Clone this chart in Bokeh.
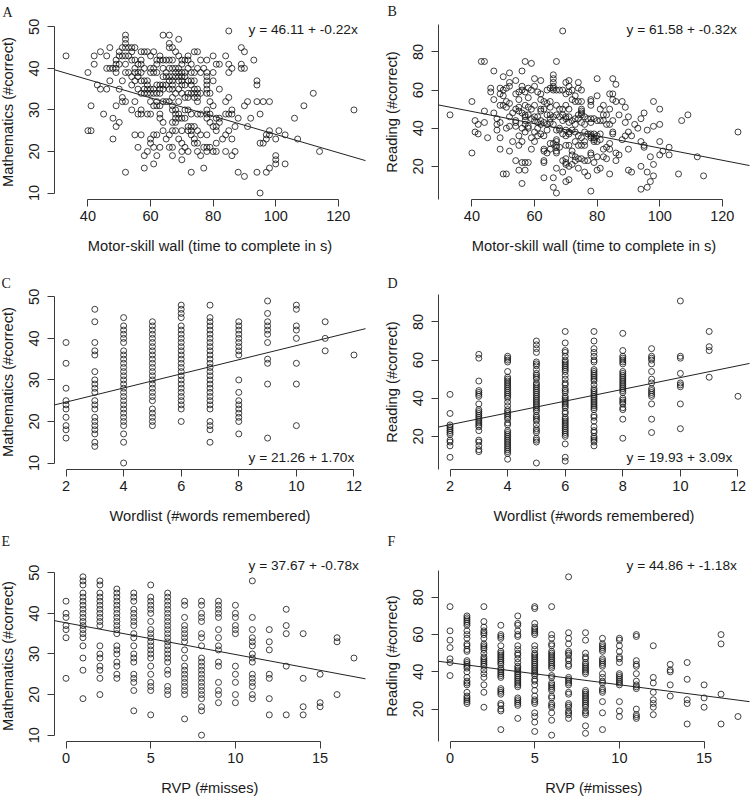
from bokeh.plotting import figure
from bokeh.layouts import column, row
from bokeh.models import Range1d, FixedTicker, Slope, Label
from bokeh.embed import file_html
from bokeh.resources import INLINE

# Panel A: motor-skill wall time vs mathematics (one list of scores per time)
motor_a = [33,40,41,42,43,44,45,46,47,48,49,50,51,52,53,54,55,56,57,58,59,60,61,62,63,64,65,66,67,68,69,70,71,72,73,74,75,76,77,78,79,80,81,82,83,84,85,86,87,88,89,90,91,92,93,94,95,96,97,98,100,101,103,106,107,109,112,114,125]
math_a = [[43],[39,25],[31,25],[43,41],[36],[44,35],[29],[43,40,35],[45,40,37],[40,28,23],[42,41,40,39,31,26],[44,43,41,35,27],[45,43,37,33,32],[48,47,46,45,43,41,39,32,15],[45,43,39],[45,44,42,38,36,30],[45,42,40,39,37,32,24],[41,39,38,35,29,21],[44,42,41,39,37,34,30,29,24],[44,40,37,35,34,19,16],[44,37,36,35,34,29,20],[43,40,39,35,34,32,29,23,22],[44,40,39,35,34,31,24,21,17],[42,41,39,36,34,32,31,24,19],[43,42,36,35,34,31,29,28,21],[48,42,40,38,36,35,32,27,25],[42,39,38,36,32,23],[48,46,45,42,40,38,37,35,32,24,21],[45,42,40,38,37,36,35,33,31,30,27,25,21,19],[44,40,39,38,34,30,29,28,27,25],[47,43,40,39,38,37,35,32,29,28,23],[42,41,39,38,37,36,34,28,25,22,20,18],[42,39,38,36,33,30,28,21],[43,42,40,37,34,33,30,26,25,20],[41,39,37,36,34,29,26,25,24,15],[44,39,37,35,34,33,26,23,22],[44,40,35,34,33,32,29,25,22,20],[42,39,34,29,24,19],[40,21,16],[42,39,38,37,36,35,34,30,29,28,24,21,20],[34,32,29,27,21],[43,39,37,31,26,20],[41,28,26,25,22,20],[41,35,28,27],[23],[43,32,29,24,20],[49,41,39,33,29,25],[40,30,29,23,19],[26,20],[28,15],[45,41,40],[44,40,31,14],[32,26],[28],[42],[37,36,32,15],[29,22,10],[32,22],[24,23,15],[32,25,24,16],[23,19,18,17],[25],[24,17],[28],[23],[31],[34],[20],[30]]

# Panel B: motor-skill wall time vs reading
motor_b = [33,40,41,42,43,44,45,46,47,48,49,50,51,52,53,54,55,56,57,58,59,60,61,62,63,64,65,66,67,68,69,70,71,72,73,74,75,76,77,78,79,80,81,82,83,84,85,86,87,88,89,90,91,92,93,94,95,96,97,98,100,101,103,106,107,109,112,114,125]
read_b = [[47],[54,27],[44,38],[42,37],[75],[75,49,43],[35],[61,59],[70,55,48],[45,42,39],[61,58,52,43,35,29],[67,60,57,52,16],[61,54,51,40,16],[69,64,62,53,46,41,28],[48,33],[65,58,50,44,43,41,23],[59,55,51,49,36,31,18],[70,62,60,48,40,33,22,11],[75,59,52,47,46,44,42,38,22,18],[61,56,51,47,41,40,22],[74,60,50,45,35,29],[66,62,52,46,44,38,33],[59,46,43,40,36],[65,58,55,50,49,44,42,37],[54,50,43,36,29,28,23,22,14],[60,53,47,42,39,27],[61,54,51,47,45,43,32,29],[68,66,64,62,61,60,46,42,32,14,9],[75,60,52,47,39,34,33,31,30,28,27,19,6],[60,50,46,40,39,30],[91,60,50,47,44,37,23,17],[64,58,52,46,45,39,36,31,24,22,21,12],[65,62,59,50,46,43,38,37,31,20,13],[60,55,44,39,28,26,21],[57,54,45,42,38,33,25,23],[64,61,54,47,45,36,31,24,19],[60,54,50,49,48,47,43,35,31,24],[46,42,38,33,31,23,17],[45,37,23,15],[55,54,52,45,43,37,36,35,27,26,7],[45,37,35,34,33,22],[66,57,44,36,33,25,18],[50,44,37,34,19],[52,47,44,29,25],[47,42,30,24],[58,50,42,32,29,16],[66,58,55,44,38,37],[63,54,27,23],[47,26],[54,34],[51,43,36],[46,38,29,18],[36,17],[42],[40],[45,33,20,8],[48,31,30],[39,17,9],[25,12],[54,41,21,15],[50,42,33,26],[28],[30,26],[16],[44],[47],[25],[15],[38]]

# Panel C: wordlist vs mathematics
words_c = [2,3,4,5,6,7,8,9,10,11,12]
math_c = [[39,34,28,25,24,23,21,19,18,16],[47,44,39,37,36,32,30,29,28,27,25,24,23,21,20,19,18,17,15,14],[45,43,42,41,40,39,37,36,35,34,33,32,31,30,29,28,27,26,25,24,23,22,21,20,19,17,15,10],[44,43,42,41,40,39,38,37,36,35,34,33,32,31,30,29,28,27,26,25,23,22,21,20,19],[48,47,46,45,43,42,41,40,39,38,37,36,35,34,33,32,31,30,29,28,27,26,25,24,23,20],[48,45,44,43,42,41,40,39,38,37,36,35,34,33,32,31,30,29,28,27,26,25,24,23,20,19,18,15],[44,43,42,41,40,39,38,37,36,30,27,25,24,23,22,21,20,17],[49,46,44,43,42,41,39,35,34,29,16],[48,47,43,42,40,34,29,19],[44,40,37],[36]]

# Panel D: wordlist vs reading
words_d = [2,3,4,5,6,7,8,9,10,11,12]
read_d = [[42,32,26,25,24,23,22,21,18,17,15,9],[63,61,49,44,43,42,41,37,34,33,32,31,30,29,28,27,26,25,23,18,17,15,13,12],[62,61,60,59,54,51,50,49,48,47,46,45,44,43,42,41,40,38,36,34,33,32,31,30,29,27,26,23,22,21,20,19,18,17,16,15,14,13,12,11,8],[70,68,66,64,59,58,57,55,53,52,51,50,48,47,46,45,44,43,42,41,40,39,38,37,36,35,34,33,31,30,29,28,26,24,23,22,19,18,17,6],[75,69,65,64,62,60,59,58,57,56,55,54,52,50,48,47,45,44,43,41,40,39,38,37,36,35,33,32,30,29,28,27,26,25,24,23,22,21,20,16,9,7],[75,70,66,64,62,60,59,55,54,53,52,51,50,49,47,45,44,43,42,41,40,39,38,37,36,35,34,31,30,28,25,23,22,20,19,18,17,15],[74,65,62,61,60,59,58,54,53,52,51,50,49,48,47,46,45,44,43,40,39,38,37,35,34,29,19],[66,62,61,60,58,54,50,48,45,44,43,42,41,37,29,22],[91,62,61,53,48,47,46,37,24],[75,67,65,51],[41]]

# Panel E: RVP misses vs mathematics
misses_e = [0,1,2,3,4,5,6,7,8,9,10,11,12,13,14,15,16,17]
math_e = [[43,40,39,37,36,34,24],[49,48,47,45,44,43,42,41,40,39,38,37,36,35,34,32,29,26,19],[48,47,45,44,43,42,41,40,39,38,37,32,30,29,27,26,24,20],[46,45,44,43,42,41,40,39,38,37,36,35,32,31,30,28,27,25,24],[45,44,43,41,40,39,38,37,35,34,32,30,29,28,25,24,23,21,16],[47,44,43,42,41,40,38,36,35,34,33,32,31,30,29,27,25,23,22,21,15],[45,44,43,42,41,40,39,38,37,36,35,34,33,32,31,30,29,28,26,25,22,21,20],[43,42,39,37,36,35,34,33,31,29,27,26,25,24,23,22,21,20,14],[43,42,40,39,38,35,34,32,29,28,27,26,25,24,23,22,21,20,19,17,16,10],[43,42,41,40,39,36,34,32,31,28,27,23,21,20,18],[42,40,39,37,36,35,27,25,23,20,18],[48,39,36,34,33,32,30,29,28,25,24,23,22,20,19],[36,33,31,25,24,19,15],[41,37,35,27,15],[35,24,17,15],[25,18,17],[34,33,20],[29]]

# Panel F: RVP misses vs reading
misses_f = [0,1,2,3,4,5,6,7,8,9,10,11,12,13,14,15,16,17]
read_f = [[75,62,57,53,47,45,38],[70,69,68,67,66,65,62,60,58,55,54,52,51,46,45,44,43,42,40,37,35,34,33,29,27,26,25,24,23],[75,67,64,62,61,60,58,55,54,53,52,50,48,47,46,45,44,43,41,39,37,33,29,21],[65,60,59,58,54,51,50,49,48,47,46,45,44,42,41,40,39,38,37,31,30,29,28,23,22,20,19,9],[70,66,65,62,60,59,54,52,50,49,47,45,43,42,41,40,39,38,37,36,35,34,33,32,26,25,24,23,22,15],[75,74,66,64,63,62,61,60,54,52,50,49,48,47,46,45,44,43,42,41,40,39,38,36,35,33,30,27,25,24,23,18,16,13,8],[75,60,58,55,54,51,50,49,48,47,46,45,44,43,42,38,37,34,33,32,31,30,27,26,23,22,21,18,14,6],[91,61,58,55,51,50,49,47,46,44,43,37,36,35,34,33,29,28,23,22,21,19,18,17,15],[61,57,50,48,47,45,44,43,42,41,40,39,30,29,28,27,26,25,24,23,22,21,19,18,17,11,7],[58,55,54,53,52,51,47,46,45,44,43,39,37,35,34,31,30,29,24,18,9],[58,57,54,51,48,47,45,39,38,37,36,35,34,33,24,19,16],[60,59,46,44,43,39,35,33,32,31,20,17,16,15],[54,37,34,29,25,23,21,17],[44,41,40,33,27],[45,36,25,23,12],[33,26,21],[60,55,28,12],[16]]

# Regression coefficients and texts
letters = ["A", "B", "C", "D", "E", "F"]
intercepts = [46.11, 61.58, 21.26, 19.93, 37.67, 44.86]
slopes = [-0.22, -0.32, 1.70, 3.09, -0.78, -1.18]
equations = ["y = 46.11 + -0.22x", "y = 61.58 + -0.32x", "y = 21.26 + 1.70x",
             "y = 19.93 + 3.09x", "y = 37.67 + -0.78x", "y = 44.86 + -1.18x"]
x_titles = ["Motor-skill wall (time to complete in s)"] * 2 + ["Wordlist (#words remembered)"] * 2 + ["RVP (#misses)"] * 2
y_titles = ["Mathematics (#correct)", "Reading (#correct)"] * 3
x_ticks = [[40, 60, 80, 100, 120]] * 2 + [[2, 4, 6, 8, 10, 12]] * 2 + [[0, 5, 10, 15]] * 2
y_ticks = [[10, 20, 30, 40, 50], [20, 40, 60, 80]] * 3

FONT = "Liberation Sans"
INK = "#3a3a3a"
TEXT = "#1a1a1a"
FW, FH = 311, 175
OVERHANG = 4  # left-column figures start slightly off the page so the y title sits at the edge


def expand(v):
    lo, hi = min(v), max(v)
    pad = (hi - lo) * 0.04
    return lo - pad, hi + pad


def panel(i, xs, ys, top, eq_xy, eq_side, letter_xy):
    fig_h = 266
    is_left = i % 2 == 0
    left = 54 + OVERHANG if is_left else 63
    width = 375 + OVERHANG if is_left else 375
    px = [x for x, col in zip(xs, ys) for _ in col]
    py = [y for col in ys for y in col]
    p = figure(width=width, height=fig_h, output_backend="svg", toolbar_location=None,
               x_range=Range1d(*expand(px)), y_range=Range1d(*expand(py)),
               min_border_left=left, min_border_right=width - left - FW,
               min_border_top=top, min_border_bottom=fig_h - top - FH,
               margin=(0, 0, 0, -OVERHANG if is_left else 0))
    p.grid.visible = False
    p.outline_line_color = None
    p.background_fill_color = None
    p.border_fill_color = None
    xa, ya = p.xaxis[0], p.yaxis[0]
    xa.ticker = FixedTicker(ticks=x_ticks[i])
    ya.ticker = FixedTicker(ticks=y_ticks[i])
    xa.bounds = (x_ticks[i][0], x_ticks[i][-1])
    if is_left:
        ya.bounds = (y_ticks[i][0], y_ticks[i][-1])
    xa.axis_label = x_titles[i]
    ya.axis_label = y_titles[i]
    ya.major_label_orientation = "parallel"
    for a in (xa, ya):
        a.axis_line_color = INK
        a.major_tick_line_color = INK
        a.axis_line_width = 1
        a.major_tick_line_width = 1
        a.major_tick_out = 7
        a.major_tick_in = 0
        a.minor_tick_out = 0
        a.minor_tick_in = 0
        a.major_label_text_font = FONT
        a.major_label_text_font_size = "14.5px"
        a.major_label_text_color = TEXT
        a.axis_label_text_font = FONT
        a.axis_label_text_font_size = "14.66px"
        a.axis_label_text_font_style = "normal"
        a.axis_label_text_color = TEXT
    xa.major_label_standoff = 4
    xa.axis_label_standoff = 14
    ya.major_label_standoff = 8
    ya.axis_label_standoff = 11
    p.scatter(px, py, marker="circle", size=6, fill_color=None, line_color="#111111", line_width=0.8)
    p.add_layout(Slope(gradient=slopes[i], y_intercept=intercepts[i], line_color="#222222", line_width=1))
    eq = Label(x=eq_xy[0], y=eq_xy[1], x_units="screen", y_units="screen", text=equations[i],
               text_font=FONT, text_font_size="13.7px", text_color=TEXT,
               text_align="left", text_baseline="middle")
    if eq_side is None:
        p.add_layout(eq)
    else:
        p.add_layout(eq, eq_side)
    p.add_layout(Label(x=letter_xy[0], y=letter_xy[1], x_units="screen", y_units="screen", text=letters[i],
                       text_font="Liberation Serif", text_font_size="14px", text_color=TEXT,
                       text_align="left", text_baseline="alphabetic"), "above")
    return p


a = panel(0, motor_a, math_a, 24, (194, 170), None, (-52, 12))
b = panel(1, motor_b, read_b, 24, (188, 170), None, (-51, 13.5))
c = panel(2, words_c, math_c, 28, (194, 12), None, (-53, 11))
d = panel(3, words_d, read_d, 28, (188, 12), None, (-51, 11))
e = panel(4, misses_e, math_e, 38, (194, 5), "above", (-53, 14))
f = panel(5, misses_f, read_f, 38, (188, 5), "above", (-51, 14))

page = column(row(a, b, spacing=0), row(c, d, spacing=0), row(e, f, spacing=0), spacing=0)
open("out.html", "w").write(file_html(page, INLINE))
